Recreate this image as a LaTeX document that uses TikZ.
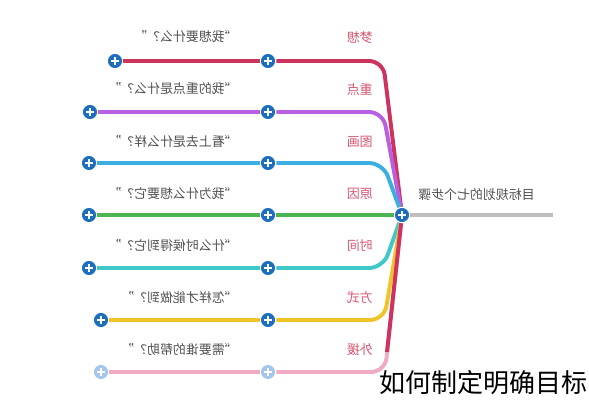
\documentclass[tikz,border=0pt]{standalone}
\usepackage{fontspec}
\newfontfamily\cjk{Noto Sans CJK SC}
\definecolor{st_red}{RGB}{204, 51, 95}
\definecolor{st_violet}{RGB}{185, 95, 225}
\definecolor{st_sky}{RGB}{60, 175, 225}
\definecolor{st_green}{RGB}{76, 180, 80}
\definecolor{st_teal}{RGB}{64, 200, 200}
\definecolor{st_yellow}{RGB}{240, 195, 40}
\definecolor{st_pink}{RGB}{240, 170, 195}
\definecolor{st_grey}{RGB}{190, 190, 190}
\definecolor{plus_blue}{RGB}{30, 110, 190}
\definecolor{plus_pale}{RGB}{165, 198, 236}
\definecolor{lab_red}{RGB}{215, 85, 110}
\definecolor{txt_grey}{RGB}{80, 80, 80}
\tikzstyle{pn}=[circle,fill=plus_blue,draw=white,line width=0.8pt,
  minimum size=11pt,inner sep=0pt,
  path picture={\draw[white,line width=1.5pt]
    ([xshift=-2.6pt]path picture bounding box.center) -- ([xshift=2.6pt]path picture bounding box.center)
    ([yshift=-2.6pt]path picture bounding box.center) -- ([yshift=2.6pt]path picture bounding box.center);}]
\tikzstyle{pp}=[pn,fill=plus_pale]
\tikzstyle{qn}=[xscale=-1,anchor=west,inner sep=0pt,text=txt_grey,
  font=\cjk\fontsize{9.2}{10}\selectfont]
\tikzstyle{ln}=[xscale=-1,anchor=west,inner sep=0pt,text=lab_red,
  font=\cjk\fontsize{9.2}{10}\selectfont]
\tikzstyle{br}=[line width=2.8pt,rounded corners=0.35cm]
\tikzstyle{none}=[]

\begin{document}
\begin{tikzpicture}[x=0.025cm, y=-0.025cm]
    \useasboundingbox (0, 0) rectangle (589, 400);
    \node [style=pn] (0) at (402, 215) {};
    \node [style=pn] (1) at (115, 61) {};
    \node [style=pn] (2) at (268, 61) {};
    \node [style=pn] (3) at (90, 112) {};
    \node [style=pn] (4) at (268, 112) {};
    \node [style=pn] (5) at (89, 163) {};
    \node [style=pn] (6) at (268, 163) {};
    \node [style=pn] (7) at (89, 215) {};
    \node [style=pn] (8) at (268, 215) {};
    \node [style=pn] (9) at (89, 268) {};
    \node [style=pn] (10) at (268, 268) {};
    \node [style=pn] (11) at (101, 320) {};
    \node [style=pn] (12) at (268, 320) {};
    \node [style=pp] (13) at (101, 372) {};
    \node [style=pp] (14) at (268, 372) {};
    \coordinate (15) at (383, 61);
    \coordinate (16) at (383, 112);
    \coordinate (17) at (383, 163);
    \coordinate (18) at (383, 268);
    \coordinate (19) at (384, 320);
    \coordinate (20) at (385, 372);
    \coordinate (21) at (387, 352);
    \coordinate (22) at (553, 215);
    \node [style=qn] (23) at (238, 37) {“我想要什么？”};
    \node [style=qn] (24) at (238, 89) {“我的重点是什么？”};
    \node [style=qn] (25) at (238, 142) {“看上去是什么样？”};
    \node [style=qn] (26) at (238, 194) {“我为什么想要它？”};
    \node [style=qn] (27) at (238, 246) {“什么时候得到它？”};
    \node [style=qn] (28) at (238, 298) {“怎样才能做到？”};
    \node [style=qn] (29) at (238, 350) {“需要谁的帮助？”};
    \node [style=ln] (30) at (373, 38) {梦想};
    \node [style=ln] (31) at (373, 90) {重点};
    \node [style=ln] (32) at (373, 142) {图画};
    \node [style=ln] (33) at (373, 194) {原因};
    \node [style=ln] (34) at (373, 246) {时间};
    \node [style=ln] (35) at (373, 298) {方式};
    \node [style=ln] (36) at (373, 350) {外援};
    \node [style=qn] (37) at (535, 195) {目标规划的七个步骤};
    \node [anchor=east, inner sep=0pt, font=\cjk\fontsize{18.5}{20}\selectfont] (38) at (588, 383) {如何制定明确目标};
    \draw [style=br, draw=st_grey] (0) to (22);
    \draw [style=br, draw=st_red] (1) to (2);
    \draw [style=br, draw=st_red] (2) -- (15) -- (0);
    \draw [style=br, draw=st_violet] (3) to (4);
    \draw [style=br, draw=st_violet] (4) -- (16) -- (0);
    \draw [style=br, draw=st_sky] (5) to (6);
    \draw [style=br, draw=st_sky] (6) -- (17) -- (0);
    \draw [style=br, draw=st_green] (7) to (8);
    \draw [style=br, draw=st_green] (8) to (0);
    \draw [style=br, draw=st_teal] (9) to (10);
    \draw [style=br, draw=st_teal] (10) -- (18) -- (0);
    \draw [style=br, draw=st_yellow] (11) to (12);
    \draw [style=br, draw=st_yellow] (12) -- (19) -- (0);
    \draw [style=br, draw=st_pink] (13) to (14);
    \draw [style=br, draw=st_pink] (14) -- (20) -- (0);
    \draw [style=br, draw=st_red] (0) to (21);
\end{tikzpicture}
\end{document}
